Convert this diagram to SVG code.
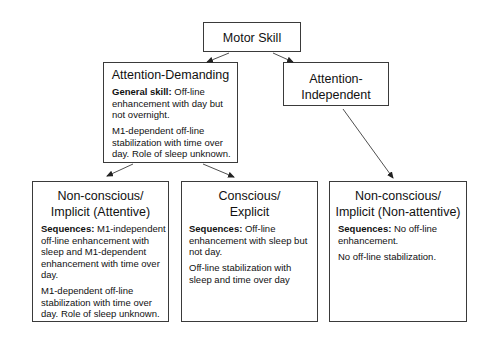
<svg xmlns="http://www.w3.org/2000/svg" width="500" height="351" viewBox="0 0 500 351">
<style>
.box{fill:#fff;stroke:#3a3a3a;stroke-width:1}
.h{font-family:"Liberation Sans",Arial,sans-serif;font-size:12.5px;fill:#111;text-anchor:middle}
.b{font-family:"Liberation Sans",Arial,sans-serif;font-size:9.5px;fill:#111}
.bold{font-weight:bold}
.conn line{stroke:#222;stroke-width:0.8;marker-end:url(#ah)}
</style>
<defs>
<marker id="ah" markerUnits="userSpaceOnUse" markerWidth="7" markerHeight="6" refX="6" refY="3" orient="auto">
<path d="M0,0 L7,3 L0,6 z" fill="#222"/>
</marker>
</defs>
<rect width="500" height="351" fill="#fff"/>
<g id="motor-skill">
<rect class="box" x="203.5" y="22.5" width="97" height="29"/>
<text class="h" x="252" y="42">Motor Skill</text>
</g>
<g id="attention-demanding">
<rect class="box" x="103.5" y="62.5" width="134" height="100"/>
<text class="h" x="170.5" y="79">Attention-Demanding</text>
<text class="b" x="112" y="95"><tspan class="bold">General skill:</tspan> Off-line</text>
<text class="b" x="112" y="106.5">enhancement with day but</text>
<text class="b" x="112" y="118">not overnight.</text>
<text class="b" x="112" y="134">M1-dependent off-line</text>
<text class="b" x="112" y="145.5">stabilization with time over</text>
<text class="b" x="112" y="157">day. Role of sleep unknown.</text>
</g>
<g id="attention-independent">
<rect class="box" x="283.5" y="62.5" width="105" height="43"/>
<text class="h" x="336" y="83">Attention-</text>
<text class="h" x="336" y="99">Independent</text>
</g>
<g id="nonconscious-attentive">
<rect class="box" x="32.5" y="181.5" width="136" height="140"/>
<text class="h" x="100.5" y="200">Non-conscious/</text>
<text class="h" x="100.5" y="216">Implicit (Attentive)</text>
<text class="b" x="41" y="232"><tspan class="bold">Sequences:</tspan> M1-independent</text>
<text class="b" x="41" y="243.5">off-line enhancement with</text>
<text class="b" x="41" y="255">sleep and M1-dependent</text>
<text class="b" x="41" y="266.5">enhancement with time over</text>
<text class="b" x="41" y="278">day.</text>
<text class="b" x="41" y="294">M1-dependent off-line</text>
<text class="b" x="41" y="305.5">stabilization with time over</text>
<text class="b" x="41" y="317">day.  Role of sleep unknown.</text>
</g>
<g id="conscious-explicit">
<rect class="box" x="181.5" y="181.5" width="136" height="140"/>
<text class="h" x="249.5" y="200">Conscious/</text>
<text class="h" x="249.5" y="216">Explicit</text>
<text class="b" x="189" y="232"><tspan class="bold">Sequences:</tspan> Off-line</text>
<text class="b" x="189" y="243.5">enhancement with sleep but</text>
<text class="b" x="189" y="255">not day.</text>
<text class="b" x="189" y="271">Off-line stabilization with</text>
<text class="b" x="189" y="282.5">sleep and time over day</text>
</g>
<g id="nonconscious-nonattentive">
<rect class="box" x="329.5" y="181.5" width="137" height="140"/>
<text class="h" x="398" y="200">Non-conscious/</text>
<text class="h" x="398" y="216">Implicit (Non-attentive)</text>
<text class="b" x="338" y="232"><tspan class="bold">Sequences:</tspan> No off-line</text>
<text class="b" x="338" y="243.5">enhancement.</text>
<text class="b" x="338" y="259.5">No off-line stabilization.</text>
</g>
<g id="connectors" class="conn">
<line x1="229" y1="53" x2="207" y2="62"/>
<line x1="273" y1="53" x2="293" y2="62"/>
<line x1="133" y1="164" x2="107" y2="176"/>
<line x1="203" y1="164" x2="234" y2="177"/>
<line x1="343" y1="109" x2="393" y2="178"/>
</g>
</svg>
